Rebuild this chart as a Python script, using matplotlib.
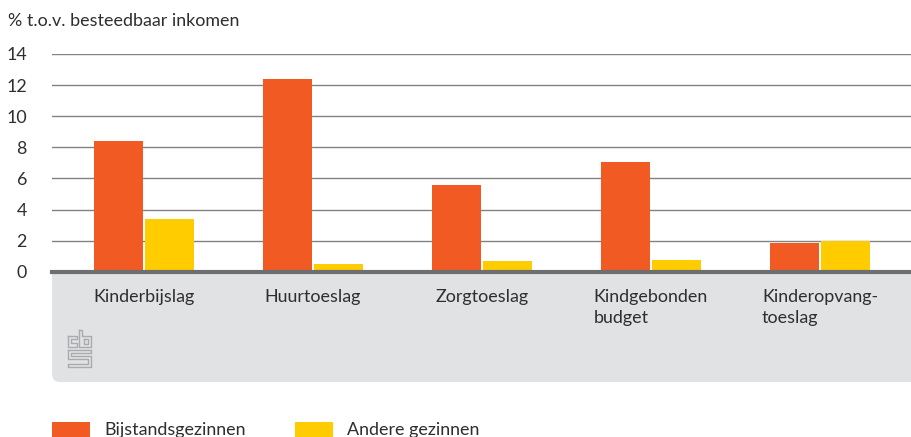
import matplotlib
matplotlib.use("Agg")
import matplotlib.pyplot as plt
from matplotlib.patches import PathPatch, Rectangle
from matplotlib.path import Path
from matplotlib.transforms import Affine2D

categories = ["Kinderbijslag", "Huurtoeslag", "Zorgtoeslag", "Kindgebonden\nbudget", "Kinderopvang-\ntoeslag"]
bijstand = [8.4, 12.4, 5.6, 7.05, 1.85]
andere = [3.4, 0.5, 0.7, 0.75, 2.0]
yticks = [0, 2, 4, 6, 8, 10, 12, 14]
series_names = ["Bijstandsgezinnen", "Andere gezinnen"]
ylabel = "% t.o.v. besteedbaar inkomen"

ORANGE = "#f15a22"
YELLOW = "#ffcc00"
TXT = "#2e2e30"
W, H = 912, 437
plt.rcParams["font.family"] = ["Lato", "DejaVu Sans"]
FS = 12.9

fig = plt.figure(figsize=(W / 100, H / 100), dpi=100)
px = Affine2D().scale(1 / W, -1 / H).translate(0, 1) + fig.transFigure

# grey panel
r = 8
x0, x1, y0, y1 = 52, 912, 272, 382
panel = Path([(x0, y0), (x1, y0), (x1, y1), (x0 + r, y1), (x0, y1), (x0, y1 - r), (x0, y0)],
             [Path.MOVETO, Path.LINETO, Path.LINETO, Path.LINETO, Path.CURVE3, Path.CURVE3, Path.LINETO])
fig.add_artist(PathPatch(panel, transform=px, fc="#e1e2e4", ec="none", zorder=-1))

top, zero = 54.0, 271.8
ax = fig.add_axes([52 / W, 1 - zero / H, 860 / W, (zero - top) / H])
ax.patch.set_alpha(0)
xs = range(len(categories))
off, bw = 25.5 / 169, 49 / 169
ax.bar([x - off for x in xs], bijstand, bw, color=ORANGE, zorder=3)
ax.bar([x + off for x in xs], andere, bw, color=YELLOW, zorder=3)
ax.set_xlim(-92 / 169, 4 + 92 / 169)
ax.set_ylim(0, 14)
ax.set_yticks(yticks)
ax.set_xticks(list(xs))
ax.set_xticklabels(categories, ma="left", linespacing=1.35, color=TXT, fontsize=FS, va="top")
ax.tick_params(axis="x", length=0, pad=12.5)
ax.tick_params(axis="y", length=0, pad=18, labelcolor=TXT, labelsize=FS)
for lab in ax.get_yticklabels():
    lab.set_y(lab.get_position()[1])
ax.grid(axis="y", color="#808285", lw=1.0, zorder=1)
ax.set_axisbelow(True)
for s in ["top", "right", "left"]:
    ax.spines[s].set_visible(False)
ax.spines["bottom"].set_color("#6d6e71")
ax.spines["bottom"].set_linewidth(3)
ax.spines["bottom"].set_zorder(4)
ax.yaxis.get_gridlines()[0].set_visible(False)

fig.text(8 / W, 1 - 21 / H, ylabel, color=TXT, fontsize=FS, va="center", ha="left")

# legend (cropped by the bottom edge as in the source)
for lx, tx, col, name in [(52, 104, ORANGE, series_names[0]), (295, 347, YELLOW, series_names[1])]:
    fig.add_artist(Rectangle((lx, 422), 38, 16, transform=px, fc=col, ec="none"))
    fig.text(tx / W, 1 - 430 / H, name, color=TXT, fontsize=FS, va="center", ha="left")

# logo outline
LOGO = "#a9aaad"
logo = [
    [(68, 336), (77, 336), (77, 339), (71, 339), (71, 343), (77, 343), (77, 347), (68, 347), (68, 336)],
    [(79, 330), (82, 330), (82, 336), (91, 336), (91, 347), (79, 347), (79, 330)],
    [(84, 339), (88, 339), (88, 344), (84, 344), (84, 339)],
    [(68, 350), (91, 350), (91, 353), (71, 353), (71, 356), (91, 356), (91, 367), (68, 367),
     (68, 364), (88, 364), (88, 359), (68, 359), (68, 350)],
]
for pts in logo:
    fig.add_artist(plt.Line2D(*zip(*pts), transform=px, color=LOGO, lw=1.0))

fig.savefig("out.png", dpi=100)
